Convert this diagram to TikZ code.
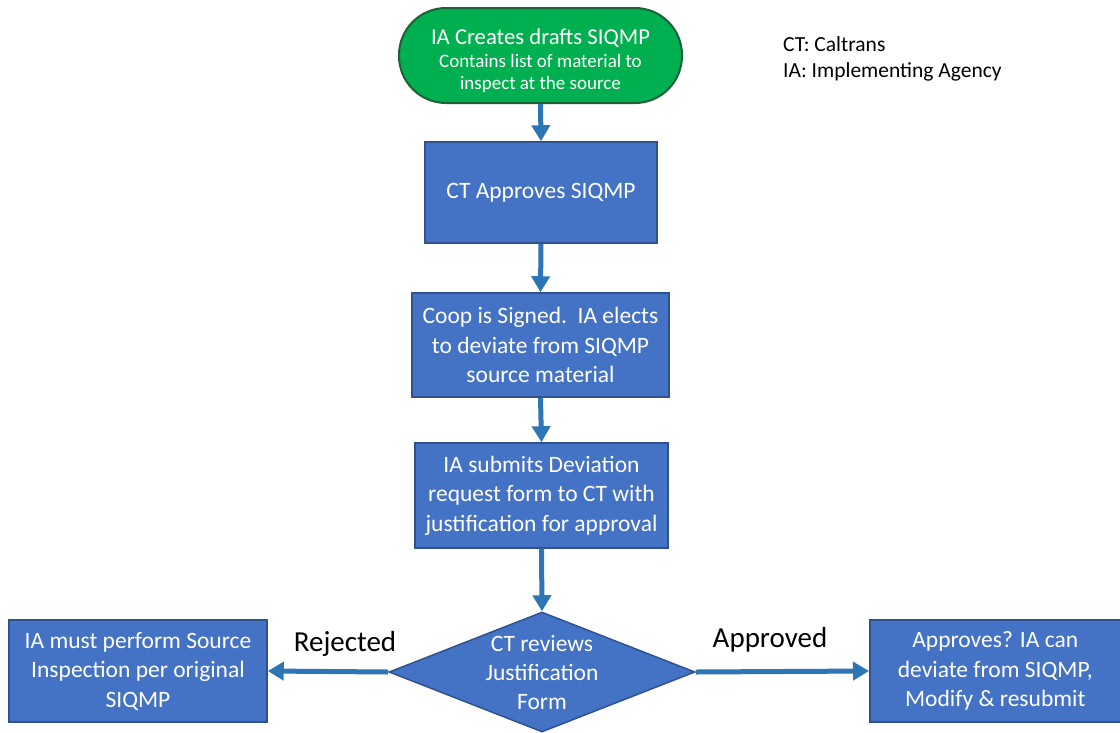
\documentclass[tikz,border=0pt]{standalone}
\usepackage{fontspec}
\setmainfont{Carlito}
\usetikzlibrary{arrows.meta,shapes.geometric}
\definecolor{boxblue}{HTML}{4472C4}
\definecolor{boxedge}{HTML}{2F528F}
\definecolor{arrowblue}{HTML}{2E75B6}
\definecolor{startgreen}{HTML}{00B050}
\definecolor{startedge}{HTML}{1F5F3A}
\tikzset{
  procbox/.style={draw=boxedge, line width=1.5pt, fill=boxblue, text=white,
    align=center, inner sep=0pt, font=\fontsize{23.5}{29.5}\selectfont},
  flow/.style={draw=arrowblue, line width=5pt, -{Triangle[length=16pt,width=18pt]}},
  branchlabel/.style={font=\fontsize{29}{34}\selectfont, text=black},
  legend/.style={font=\fontsize{21.5}{26}\selectfont, align=left, anchor=north west, inner sep=0pt},
}
\begin{document}
\begin{tikzpicture}[x=1pt,y=-1pt]
\useasboundingbox (0,0) rectangle (1120,732);
\node[draw=startedge, line width=2pt, fill=startgreen, rounded corners=47pt,
  minimum width=283pt, minimum height=95pt, inner sep=0pt] (start) at (540.5,55.5) {};
\node[text=white, align=center, font=\fontsize{19}{22.5}\selectfont, inner sep=0pt]
  (starttext) at (540.5,61) {{\fontsize{22.7}{23}\selectfont IA Creates drafts SIQMP}\\
  Contains list of material to\\
  inspect at the source};
\node[procbox, minimum width=232pt, minimum height=101pt] (approve) at (541,192.5) {CT Approves SIQMP};
\node[procbox, minimum width=257pt, minimum height=104pt] (coop) at (540.5,345) {Coop is Signed.\ \ IA elects\\to deviate from SIQMP\\source material};
\node[procbox, minimum width=253pt, minimum height=105pt] (submit) at (541.5,495.5) {IA submits Deviation\\request form to CT with\\justification for approval};
\node[draw=boxedge, line width=1.5pt, fill=boxblue, shape=diamond, minimum width=306pt,
  minimum height=120pt, inner sep=0pt] (review) at (542,672) {};
\node[text=white, align=center, font=\fontsize{23.5}{29}\selectfont] (reviewtext) at (review.center) {CT reviews\\Justification\\Form};
\node[procbox, minimum width=258pt, minimum height=102pt] (reject) at (138,671) {IA must perform Source\\Inspection per original\\SIQMP};
\node[procbox, minimum width=251pt, minimum height=102pt, anchor=west] (ok) at (869,671) {Approves? IA can\\deviate from SIQMP,\\Modify \& resubmit};
\draw[flow] (start.south) -- (approve.north);
\draw[flow] (approve.south) -- (coop.north);
\draw[flow] (coop.south) -- (submit.north);
\draw[flow] (submit.south) -- (review.north);
\draw[flow] (review.west) -- (reject.east);
\draw[flow] (review.east) -- (ok.west);
\node[branchlabel] (rejlabel) at (345,644) {Rejected};
\node[branchlabel] (applabel) at (770,640) {Approved};
\node[legend] (key) at (783,36) {CT: Caltrans\\IA: Implementing Agency};
\end{tikzpicture}
\end{document}
